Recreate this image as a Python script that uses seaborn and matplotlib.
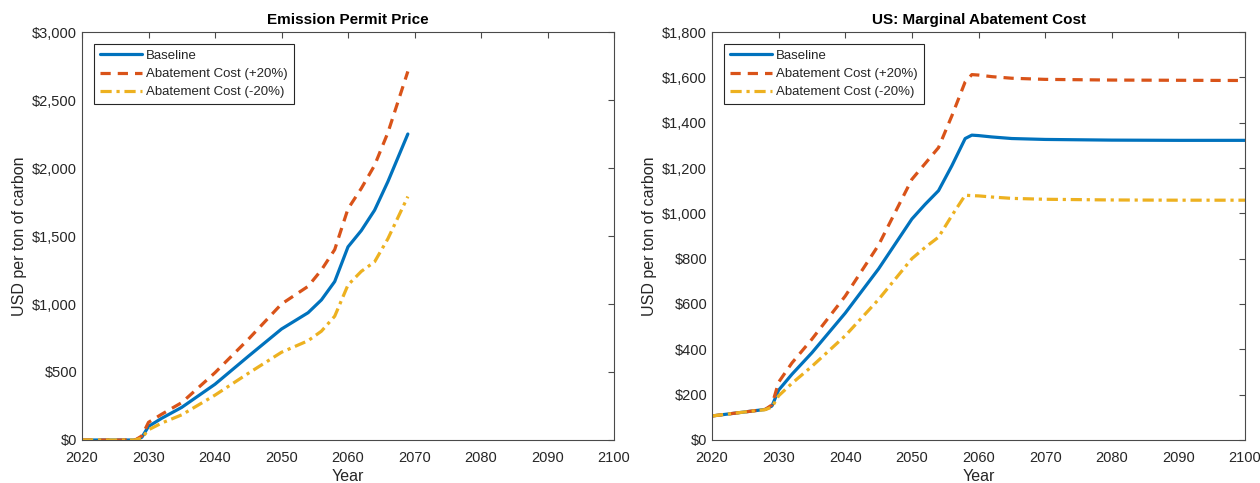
import matplotlib
matplotlib.use("Agg")
import matplotlib.pyplot as plt
import seaborn as sns
import pandas as pd
from matplotlib.ticker import FuncFormatter

sns.set_theme(style="white")
plt.rcParams['font.family'] = ['Liberation Sans', 'DejaVu Sans']

# ---- data: left panel (Emission Permit Price) ----
years_left = [2020, 2025, 2028, 2029, 2030, 2032, 2035, 2040, 2045, 2050, 2054, 2056, 2058, 2060, 2062, 2064, 2066, 2069]
price_base = [0, 0, 0, 20, 100, 160, 240, 410, 615, 816, 936, 1030, 1165, 1420, 1540, 1690, 1900, 2250]
price_plus = [0, 0, 0, 30, 130, 190, 275, 495, 740, 1000, 1130, 1250, 1400, 1700, 1850, 2020, 2260, 2710]
price_minus = [0, 0, 0, 15, 75, 125, 185, 330, 490, 645, 730, 800, 910, 1140, 1240, 1310, 1480, 1790]

# ---- data: right panel (US: Marginal Abatement Cost) ----
years_right = [2020, 2025, 2028, 2029, 2030, 2032, 2035, 2040, 2045, 2050, 2052, 2054, 2056, 2058, 2059, 2060, 2062, 2065, 2070, 2080, 2090, 2100]
mac_base = [106, 124, 135, 150, 220, 290, 385, 560, 755, 975, 1040, 1100, 1210, 1330, 1345, 1343, 1337, 1330, 1326, 1323, 1322, 1322]
mac_plus = [106, 124, 135, 155, 255, 340, 445, 635, 860, 1150, 1220, 1290, 1430, 1580, 1612, 1610, 1603, 1596, 1591, 1588, 1587, 1586]
mac_minus = [106, 124, 134, 145, 195, 250, 325, 460, 620, 800, 850, 895, 990, 1080, 1078, 1077, 1072, 1066, 1062, 1059, 1058, 1058]

labels = ["Baseline", "Abatement Cost (+20%)", "Abatement Cost (-20%)"]
colors = ["#0072BD", "#D95319", "#EDB120"]
styles = ["-", (0, (3.2, 2.2)), (0, (3.5, 1.5, 1, 1.5))]

fig = plt.figure(figsize=(12.6, 4.83), dpi=100)
ax1 = fig.add_axes([82/1260, 43/483, 532/1260, 408/483])
ax2 = fig.add_axes([712/1260, 43/483, 533/1260, 408/483])

axcol = "#262626"
spcol = "#4a4a4a"

def draw(ax, x, series, title, ymax, ystep):
    for s, lab, c, ls in zip(series, labels, colors, styles):
        df = pd.DataFrame({"Year": x, "v": s})
        sns.lineplot(data=df, x="Year", y="v", ax=ax, color=c, linestyle=ls,
                     linewidth=2.3, label=lab)
    ax.set_xlim(2020, 2100)
    ax.set_ylim(0, ymax)
    ax.set_xticks(range(2020, 2101, 10))
    ax.set_yticks(range(0, ymax + 1, ystep))
    ax.yaxis.set_major_formatter(FuncFormatter(lambda v, p: f"${v:,.0f}"))
    ax.set_title(title, fontsize=11, fontweight="bold", color="black", pad=6)
    ax.set_xlabel("Year", fontsize=11.5, color=axcol, labelpad=3)
    ax.set_ylabel("USD per ton of carbon", fontsize=11.5, color=axcol, labelpad=4)
    ax.tick_params(direction="in", top=True, right=True, length=4, width=0.8,
                   labelsize=10.5, colors=spcol, labelcolor=axcol)
    ax.tick_params(axis="x", pad=8)
    ax.tick_params(axis="y", pad=3.5)
    for sp in ax.spines.values():
        sp.set_visible(True)
        sp.set_color(spcol)
        sp.set_linewidth(0.8)
    leg = ax.legend(loc="upper left", fontsize=9.5, frameon=True, fancybox=False,
                    edgecolor=axcol, framealpha=1, handlelength=3.2,
                    borderaxespad=0.9, labelspacing=0.45, borderpad=0.45, handletextpad=0.3)
    leg.get_frame().set_linewidth(0.8)

draw(ax1, years_left, [price_base, price_plus, price_minus], "Emission Permit Price", 3000, 500)
draw(ax2, years_right, [mac_base, mac_plus, mac_minus], "US: Marginal Abatement Cost", 1800, 200)

fig.savefig("out.png", dpi=100)
